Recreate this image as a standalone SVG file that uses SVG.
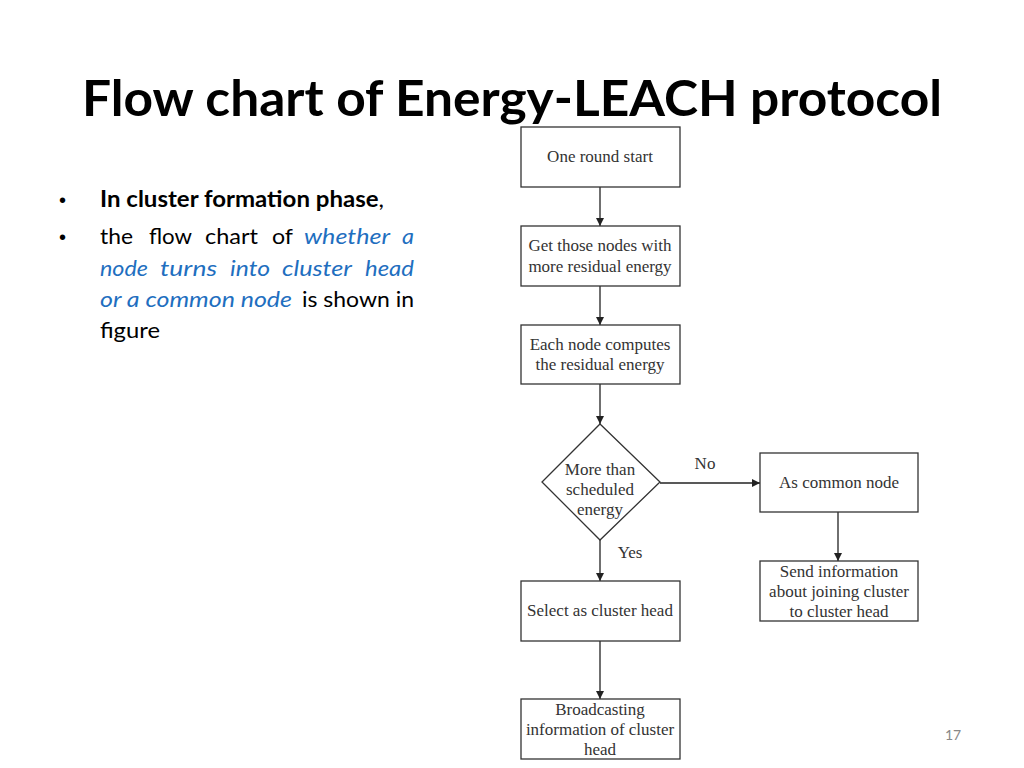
<svg xmlns="http://www.w3.org/2000/svg" width="1024" height="768" viewBox="0 0 1024 768">
<style>
.box{fill:#fff;stroke:#333;stroke-width:1.3}
.ft{font-family:"Liberation Serif","Times New Roman",serif;font-size:17px;fill:#333;text-anchor:middle}
.body{font-family:Lato,"Open Sans","Liberation Sans",sans-serif;font-size:22px;fill:#000}
.blue{fill:#1f6fbf;font-style:italic}
.con{stroke:#222;stroke-width:1.3;fill:none;marker-end:url(#arr)}
</style>
<defs>
<marker id="arr" markerWidth="10" markerHeight="10" refX="9" refY="5" orient="auto" markerUnits="userSpaceOnUse">
<path d="M1,1 L9,5 L1,9 Z" fill="#222"/>
</marker>
</defs>
<rect width="1024" height="768" fill="#fff"/>
<text x="512" y="116" text-anchor="middle" font-family="Lato,'Open Sans','Liberation Sans',sans-serif" font-weight="bold" font-size="50" textLength="860" lengthAdjust="spacingAndGlyphs" fill="#000">Flow chart of Energy-LEACH protocol</text>
<g id="bullets" class="body">
<text x="59" y="207" font-family="'Liberation Sans',sans-serif" font-size="20">•</text>
<text x="100" y="207" font-weight="bold" textLength="284" lengthAdjust="spacingAndGlyphs">In cluster formation phase<tspan font-weight="normal">,</tspan></text>
<text x="59" y="244" font-family="'Liberation Sans',sans-serif" font-size="20">•</text>
<text x="100" y="244" textLength="33" lengthAdjust="spacingAndGlyphs">the</text>
<text x="149" y="244" textLength="43" lengthAdjust="spacingAndGlyphs">flow</text>
<text x="205" y="244" textLength="53" lengthAdjust="spacingAndGlyphs">chart</text>
<text x="272" y="244" textLength="21" lengthAdjust="spacingAndGlyphs">of</text>
<text x="304" y="244" class="blue" textLength="86" lengthAdjust="spacingAndGlyphs">whether</text>
<text x="402" y="244" class="blue" textLength="12" lengthAdjust="spacingAndGlyphs">a</text>
<text x="100" y="276" class="blue" textLength="48" lengthAdjust="spacingAndGlyphs">node</text>
<text x="160" y="276" class="blue" textLength="57" lengthAdjust="spacingAndGlyphs">turns</text>
<text x="230" y="276" class="blue" textLength="40" lengthAdjust="spacingAndGlyphs">into</text>
<text x="282" y="276" class="blue" textLength="70" lengthAdjust="spacingAndGlyphs">cluster</text>
<text x="365" y="276" class="blue" textLength="49" lengthAdjust="spacingAndGlyphs">head</text>
<text x="100" y="307" class="blue" textLength="192" lengthAdjust="spacingAndGlyphs">or a common node</text>
<text x="302" y="307" textLength="112" lengthAdjust="spacingAndGlyphs">is shown in</text>
<text x="100" y="338" textLength="60" lengthAdjust="spacingAndGlyphs">figure</text>
</g>
<g id="connectors">
<line class="con" x1="600" y1="187" x2="600" y2="226"/>
<line class="con" x1="600" y1="286" x2="600" y2="325"/>
<line class="con" x1="600" y1="384" x2="600" y2="424"/>
<line class="con" x1="660" y1="483" x2="760" y2="483"/>
<line class="con" x1="600" y1="540" x2="600" y2="581"/>
<line class="con" x1="838" y1="512" x2="838" y2="561"/>
<line class="con" x1="600" y1="641" x2="600" y2="699"/>
<text class="ft" x="705" y="469">No</text>
<text class="ft" x="630" y="558">Yes</text>
</g>
<g id="n1"><rect class="box" x="521" y="127" width="159" height="60"/><text class="ft" x="600" y="162">One round start</text></g>
<g id="n2"><rect class="box" x="521" y="226" width="159" height="60"/><text class="ft" x="600" y="251">Get those nodes with</text><text class="ft" x="600" y="272">more residual energy</text></g>
<g id="n3"><rect class="box" x="521" y="325" width="159" height="59"/><text class="ft" x="600" y="350">Each node computes</text><text class="ft" x="600" y="370">the residual energy</text></g>
<g id="n4"><polygon class="box" points="600,424 660,482 600,540 542,482"/><text class="ft" x="600" y="475">More than</text><text class="ft" x="600" y="495">scheduled</text><text class="ft" x="600" y="515">energy</text></g>
<g id="n5"><rect class="box" x="760" y="453" width="158" height="59"/><text class="ft" x="839" y="488">As common node</text></g>
<g id="n6"><rect class="box" x="760" y="561" width="158" height="60"/><text class="ft" x="839" y="577">Send information</text><text class="ft" x="839" y="597">about joining cluster</text><text class="ft" x="839" y="617">to cluster head</text></g>
<g id="n7"><rect class="box" x="521" y="581" width="159" height="60"/><text class="ft" x="600" y="616">Select as cluster head</text></g>
<g id="n8"><rect class="box" x="521" y="699" width="159" height="60"/><text class="ft" x="600" y="715">Broadcasting</text><text class="ft" x="600" y="735">information of cluster</text><text class="ft" x="600" y="755">head</text></g>
<text x="953" y="740" text-anchor="middle" font-family="Lato,'Liberation Sans',sans-serif" font-size="14" fill="#888">17</text>
</svg>
